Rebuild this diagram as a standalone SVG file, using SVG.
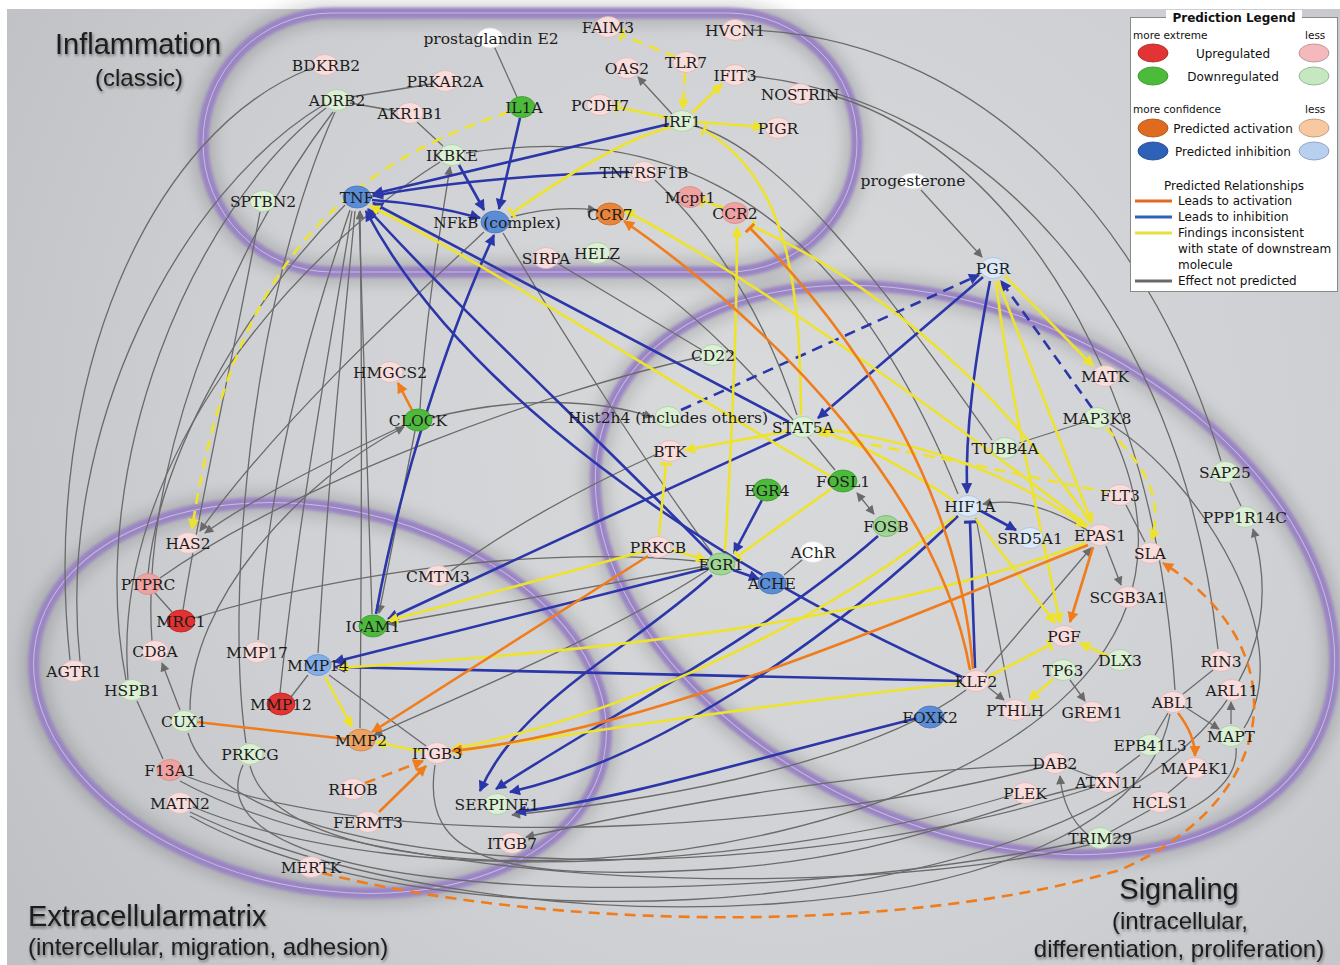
<svg xmlns="http://www.w3.org/2000/svg" width="1340" height="965" viewBox="0 0 1340 965">
<defs>
<radialGradient id="bg" cx="780" cy="430" r="900" gradientUnits="userSpaceOnUse">
<stop offset="0" stop-color="#d9dadc"/><stop offset="0.6" stop-color="#cfd0d3"/><stop offset="1" stop-color="#bfc1c4"/>
</radialGradient>
<filter id="blur" x="-10%" y="-10%" width="120%" height="120%"><feGaussianBlur stdDeviation="1.6"/></filter>
<filter id="sh" x="-10%" y="-10%" width="120%" height="120%"><feGaussianBlur stdDeviation="7"/></filter>
<filter id="ts" x="-5%" y="-20%" width="110%" height="150%"><feDropShadow dx="1" dy="2" stdDeviation="1.5" flood-color="#000" flood-opacity="0.45"/></filter>
<marker id="aB" viewBox="0 0 10 10" refX="9" refY="5" markerWidth="13" markerHeight="11" markerUnits="userSpaceOnUse" orient="auto"><path d="M0,0L10,5L0,10z" fill="#2b36a8"/></marker>
<marker id="aY" viewBox="0 0 10 10" refX="9" refY="5" markerWidth="13" markerHeight="11" markerUnits="userSpaceOnUse" orient="auto"><path d="M0,0L10,5L0,10z" fill="#eee32c"/></marker>
<marker id="aO" viewBox="0 0 10 10" refX="9" refY="5" markerWidth="13" markerHeight="11" markerUnits="userSpaceOnUse" orient="auto"><path d="M0,0L10,5L0,10z" fill="#f07c1c"/></marker>
<marker id="aG" viewBox="0 0 10 10" refX="9" refY="5" markerWidth="11" markerHeight="9" markerUnits="userSpaceOnUse" orient="auto-start-reverse"><path d="M0,0L10,5L0,10z" fill="#6a6a6a"/></marker>
<marker id="tY" viewBox="0 0 4 12" refX="2" refY="6" markerWidth="4" markerHeight="12" markerUnits="userSpaceOnUse" orient="auto"><rect x="0.5" y="0" width="3" height="12" fill="#eee32c"/></marker>
<marker id="tB" viewBox="0 0 4 12" refX="2" refY="6" markerWidth="4" markerHeight="12" markerUnits="userSpaceOnUse" orient="auto"><rect x="0.5" y="0" width="3" height="12" fill="#2b36a8"/></marker>
<marker id="tO" viewBox="0 0 4 12" refX="2" refY="6" markerWidth="4" markerHeight="12" markerUnits="userSpaceOnUse" orient="auto"><rect x="0.5" y="0" width="3" height="12" fill="#f07c1c"/></marker>
<style>
.band{fill:none;stroke:#9a84c4;stroke-width:11}
.bandl{fill:none;stroke:#ffffff;stroke-opacity:0.45;stroke-width:1}
.bsh{fill:none;stroke:#000;stroke-opacity:0.13;stroke-width:26}
#edges path{fill:none}
.g{stroke:#6a6a6a;stroke-width:1.3}
.b{stroke:#2b36a8;stroke-width:2.6}
.y{stroke:#eee32c;stroke-width:2.6}
.o{stroke:#f07c1c;stroke-width:2.6}
.d{stroke-dasharray:11 7}
.lb{font-family:"DejaVu Serif","Liberation Serif",serif;font-size:15.5px;fill:#1c1c1c;text-anchor:middle}
ellipse{stroke-width:0.8}
.pk{fill:#f9dcdc;stroke:#dcb8b8}
.mp{fill:#f0a2a2;stroke:#d48a8a}
.rd{fill:#e23232;stroke:#b82020}
.lg{fill:#dbf0d5;stroke:#aacca4}
.mg{fill:#9ed694;stroke:#7ab070}
.gr{fill:#4dba3c;stroke:#3a9a2c}
.bl{fill:#5b8dd6;stroke:#4a74b8}
.mb{fill:#84aee8;stroke:#6690cc}
.lbl{fill:#dce9f8;stroke:#a9c0dc}
.or{fill:#e8853a;stroke:#c86a22}
.lo{fill:#eca262;stroke:#cc8444}
.wh{fill:#ffffff;stroke:#dddddd}
.gt{font-family:"Liberation Sans",Arial,sans-serif;fill:#1e1e1e;filter:url(#ts)}
.lt{font-family:"DejaVu Sans",Verdana,sans-serif;font-size:12px;fill:#111}
.ls{font-family:"DejaVu Sans",Verdana,sans-serif;font-size:10.5px;fill:#111}
</style>
</defs>
<rect width="1340" height="965" fill="#ffffff"/>
<rect x="7" y="9" width="1333" height="956" fill="url(#bg)"/>

<g id="bands">
<rect class="bsh" filter="url(#sh)" x="203" y="13" width="654" height="259" rx="129" ry="129"/>
<ellipse class="bsh" filter="url(#sh)" cx="320" cy="698" rx="290" ry="190" transform="rotate(12 320 698)"/>
<ellipse class="bsh" filter="url(#sh)" cx="965" cy="570" rx="390" ry="256" transform="rotate(25 965 570)"/>
<rect class="band" filter="url(#blur)" x="203" y="13" width="654" height="259" rx="129" ry="129"/>
<ellipse class="band" filter="url(#blur)" cx="320" cy="698" rx="290" ry="190" transform="rotate(12 320 698)"/>
<ellipse class="band" filter="url(#blur)" cx="965" cy="570" rx="390" ry="256" transform="rotate(25 965 570)"/>
<rect class="bandl" x="203" y="13" width="654" height="259" rx="129" ry="129"/>
<ellipse class="bandl" cx="320" cy="698" rx="290" ry="190" transform="rotate(12 320 698)"/>
<ellipse class="bandl" cx="965" cy="570" rx="390" ry="256" transform="rotate(25 965 570)"/>
</g>

<g id="edges">
<!-- gray -->
<path class="g" d="M494,46 L517,97"/>
<path class="g" d="M672,114 L638,77" marker-end="url(#aG)"/>
<path class="g" d="M351,97 L431,84"/>
<path class="g" d="M350,103 L396,111"/>
<path class="g" d="M417,122 L443,146"/>
<path class="g" d="M511,217 Q555,205 596,210" marker-end="url(#aG)"/>
<path class="g" d="M466,153 C620,130 820,150 958,494"/>
<path class="g" d="M695,126 C780,150 880,280 992,440"/>
<path class="g" d="M655,180 C720,240 770,330 797,415"/>
<path class="g" d="M557,263 L702,350"/>
<path class="g" d="M609,258 C690,300 770,390 835,470"/>
<path class="g" d="M921,190 L982,257" marker-end="url(#aG)"/>
<path class="g" d="M503,233 C560,330 650,470 712,553"/>
<path class="g" d="M484,232 C400,310 280,420 200,531" marker-end="url(#aG)"/>
<path class="g" d="M405,425 C330,460 250,500 205,533" marker-end="url(#aG)"/>
<path class="g" d="M420,409 C425,320 440,230 450,167" marker-end="url(#aG)"/>
<path class="g" d="M415,431 L379,613" marker-end="url(#aG)"/>
<path class="g" d="M431,418 C520,395 600,400 652,417" marker-end="url(#aG)"/>
<path class="g" d="M700,357 C550,390 300,480 160,578"/>
<path class="g" d="M155,593 L172,612"/>
<path class="g" d="M194,618 C350,570 550,545 706,562"/>
<path class="g" d="M451,571 C520,520 600,480 657,454"/>
<path class="g" d="M706,566 L388,624" marker-end="url(#aG)"/>
<path class="g" d="M708,570 C600,640 450,700 374,735" marker-end="url(#aG)"/>
<path class="g" d="M802,560 L784,575"/>
<path class="g" d="M857,493 L874,514" marker-start="url(#aG)" marker-end="url(#aG)"/>
<path class="g" d="M1085,422 L1019,443"/>
<path class="g" d="M1126,505 L1145,542"/>
<path class="g" d="M1106,546 L1121,585" marker-end="url(#aG)"/>
<path class="g" d="M1087,530 Q1030,495 983,504" marker-end="url(#aG)"/>
<path class="g" d="M985,672 L1091,548" marker-end="url(#aG)"/>
<path class="g" d="M976,518 L1010,698"/>
<path class="g" d="M988,687 L1004,700" marker-end="url(#aG)"/>
<path class="g" d="M1070,680 L1085,701" marker-end="url(#aG)"/>
<path class="g" d="M966,690 C900,740 750,790 512,815" marker-end="url(#aG)"/>
<path class="g" d="M1042,765 C850,770 650,810 526,837" marker-end="url(#aG)"/>
<path class="g" d="M435,765 C420,860 500,880 700,870 S1000,800 1095,785"/>
<path class="g" d="M329,675 L426,746"/>
<path class="g" d="M291,697 L308,675"/>
<path class="g" d="M180,710 L162,663" marker-end="url(#aG)"/>
<path class="g" d="M137,701 L163,759"/>
<path class="g" d="M360,728 C362,500 362,350 360,211" marker-end="url(#aG)"/>
<path class="g" d="M372,614 L359,212"/>
<path class="g" d="M318,653 C330,450 345,320 355,211"/>
<path class="g" d="M280,693 C300,500 335,320 352,211"/>
<path class="g" d="M258,640 C270,450 320,300 350,210"/>
<path class="g" d="M312,68 C150,130 40,380 70,660"/>
<path class="g" d="M325,104 C180,190 55,430 80,661"/>
<path class="g" d="M326,108 C190,210 85,470 126,680"/>
<path class="g" d="M333,112 C220,260 140,480 152,641"/>
<path class="g" d="M260,212 C235,350 200,500 183,610"/>
<path class="g" d="M345,205 C250,300 160,450 148,574"/>
<path class="g" d="M440,162 C300,250 110,460 128,680"/>
<path class="g" d="M190,710 C190,600 300,480 404,427" marker-end="url(#aG)"/>
<path class="g" d="M246,743 C225,600 250,300 335,112"/>
<path class="g" d="M183,775 C400,860 800,830 1043,767"/>
<path class="g" d="M193,807 C420,900 800,860 1012,795"/>
<path class="g" d="M188,733 C230,880 750,900 1095,787"/>
<path class="g" d="M243,765 C180,900 700,920 1086,841"/>
<path class="g" d="M190,812 C500,960 1130,940 1170,714"/>
<path class="g" d="M180,781 C450,930 1250,900 1236,748"/>
<path class="g" d="M190,816 C500,990 1360,900 1253,529" marker-end="url(#aG)"/>
<path class="g" d="M250,766 C300,960 1320,860 1110,428"/>
<path class="g" d="M1213,670 L1183,694"/>
<path class="g" d="M1185,707 L1219,729" marker-end="url(#aG)"/>
<path class="g" d="M1231,724 L1231,702" marker-end="url(#aG)"/>
<path class="g" d="M1168,713 L1155,735"/>
<path class="g" d="M1140,755 L1116,773"/>
<path class="g" d="M1187,777 L1168,793"/>
<path class="g" d="M1150,810 L1110,832"/>
<path class="g" d="M1067,767 L1096,778"/>
<path class="g" d="M1088,835 C1070,820 1062,800 1060,776" marker-end="url(#aG)"/>
<path class="g" d="M1230,483 L1241,506"/>
<path class="g" d="M751,30 C1000,40 1160,250 1221,461"/>
<path class="g" d="M751,76 C980,100 1180,300 1218,649"/>
<path class="g" d="M830,95 C960,130 1150,300 1175,690"/>
<path class="g" d="M1110,424 C1200,480 1300,640 1244,728"/>
<!-- blue -->
<path class="b" d="M669,124 L373,194" marker-end="url(#aB)"/>
<path class="b" d="M629,172 Q480,176 373,196" marker-end="url(#aB)"/>
<path class="b" d="M372,200 Q430,204 480,218" marker-end="url(#aB)"/>
<path class="b" d="M459,165 L484,210" marker-end="url(#aB)"/>
<path class="b" d="M520,118 L499,209" marker-end="url(#aB)"/>
<path class="b" d="M376,614 C400,480 450,330 494,235" marker-end="url(#aB)"/>
<path class="b" d="M789,422 L373,203" marker-end="url(#aB)"/>
<path class="b" d="M712,555 C600,440 450,300 368,209" marker-end="url(#aB)"/>
<path class="b" d="M962,677 C700,560 460,390 366,211" marker-end="url(#aB)"/>
<path class="b" d="M983,277 L818,418" marker-end="url(#aB)"/>
<path class="b" d="M990,281 C975,360 965,430 967,493" marker-end="url(#aB)"/>
<path class="b d" d="M681,410 L979,275" marker-end="url(#aB)"/>
<path class="b d" d="M1092,408 L1001,281" marker-end="url(#aB)"/>
<path class="b" d="M981,511 L1016,530" marker-end="url(#aB)"/>
<path class="b" d="M975,668 L970,522" marker-end="url(#tB)"/>
<path class="b" d="M762,500 L734,553" marker-end="url(#aB)"/>
<path class="b" d="M733,570 L759,579" marker-end="url(#aB)"/>
<path class="b" d="M791,433 Q600,520 388,619" marker-end="url(#aB)"/>
<path class="b" d="M708,568 L334,662" marker-end="url(#aB)"/>
<path class="b" d="M962,681 L335,667" marker-end="url(#aB)"/>
<path class="b" d="M712,575 C630,650 520,700 480,791" marker-end="url(#aB)"/>
<path class="b" d="M878,536 C760,640 600,720 496,789" marker-end="url(#aB)"/>
<path class="b" d="M958,516 C820,650 650,760 510,792" marker-end="url(#aB)"/>
<path class="b" d="M918,718 C750,760 620,800 516,812" marker-end="url(#aB)"/>
<!-- yellow -->
<path class="y d" d="M676,57 L622,35" marker-end="url(#tY)"/>
<path class="y d" d="M685,73 L683,109" marker-end="url(#aY)"/>
<path class="y" d="M692,113 L722,84" marker-end="url(#aY)"/>
<path class="y" d="M669,118 L617,107" marker-end="url(#tY)"/>
<path class="y" d="M697,122 L763,127" marker-end="url(#aY)"/>
<path class="y" d="M671,127 C620,140 560,180 512,213" marker-end="url(#tY)"/>
<path class="y d" d="M509,112 C330,170 230,280 192,529" marker-end="url(#aY)"/>
<path class="y" d="M724,208 L703,201" marker-end="url(#tY)"/>
<path class="y" d="M725,551 C733,420 737,300 737,227" marker-end="url(#aY)"/>
<path class="y" d="M801,415 C800,290 790,180 704,130" marker-end="url(#tY)"/>
<path class="y" d="M1088,526 C900,380 720,260 624,210" marker-end="url(#aY)"/>
<path class="y" d="M1090,522 C980,360 850,270 752,226" marker-end="url(#tY)"/>
<path class="y" d="M830,476 C650,370 480,260 370,206" marker-end="url(#aY)"/>
<path class="y" d="M831,489 L738,556" marker-end="url(#tY)"/>
<path class="y" d="M672,550 L706,560" marker-end="url(#aY)"/>
<path class="y" d="M659,535 L666,464" marker-end="url(#tY)"/>
<path class="y" d="M789,431 L685,450" marker-end="url(#aY)"/>
<path class="y" d="M645,551 L388,621" marker-end="url(#aY)"/>
<path class="y" d="M954,501 Q880,450 819,430" marker-end="url(#aY)"/>
<path class="y d" d="M818,434 Q950,460 1106,492"/>
<path class="y" d="M818,428 Q980,450 1086,527" marker-end="url(#aY)"/>
<path class="y" d="M1005,276 L1093,366" marker-end="url(#aY)"/>
<path class="y" d="M998,281 L1092,523" marker-end="url(#aY)"/>
<path class="y" d="M996,282 C1010,400 1040,520 1060,623" marker-end="url(#aY)"/>
<path class="y d" d="M1106,428 C1150,470 1162,500 1152,540" marker-end="url(#aY)"/>
<path class="y" d="M976,519 L1055,623" marker-end="url(#aY)"/>
<path class="y" d="M1108,656 L1080,643" marker-end="url(#aY)"/>
<path class="y" d="M1053,679 L1029,700" marker-end="url(#aY)"/>
<path class="y" d="M988,677 L1050,645" marker-end="url(#tY)"/>
<path class="y" d="M955,516 C800,640 600,720 452,749" marker-end="url(#aY)"/>
<path class="y" d="M962,683 C800,700 600,730 452,752" marker-end="url(#aY)"/>
<path class="y" d="M1086,543 C900,610 700,645 338,668" marker-end="url(#aY)"/>
<path class="y" d="M325,677 L352,727" marker-end="url(#aY)"/>
<path class="y" d="M423,752 L376,742" marker-end="url(#aY)"/>
<!-- orange -->
<path class="o" d="M412,410 L398,383" marker-end="url(#aO)"/>
<path class="o" d="M970,670 C940,500 780,330 624,221" marker-end="url(#aO)"/>
<path class="o" d="M973,669 C960,500 870,350 750,228" marker-end="url(#tO)"/>
<path class="o" d="M648,556 L372,732" marker-end="url(#aO)"/>
<path class="o" d="M197,722 L346,739"/>
<path class="o" d="M1088,545 C900,620 650,730 452,751" marker-end="url(#aO)"/>
<path class="o" d="M1093,547 L1070,622" marker-end="url(#aO)"/>
<path class="o d" d="M365,783 L423,761" marker-end="url(#aO)"/>
<path class="o" d="M379,812 L426,766" marker-end="url(#aO)"/>
<path class="o" d="M1178,713 Q1195,735 1195,756" marker-end="url(#aO)"/>
<path class="o d" d="M322,873 C550,930 900,935 1120,870 C1280,800 1300,650 1163,563" marker-end="url(#aO)"/>
</g>

<g id="nodes">
<g id="n-prostaglandinE2"><ellipse class="wh" cx="490" cy="38" rx="13" ry="10"/><text class="lb" x="491" y="44">prostaglandin E2</text></g>
<g id="n-FAIM3"><ellipse class="pk" cx="608" cy="27" rx="13" ry="10.5"/><text class="lb" x="608" y="33">FAIM3</text></g>
<g id="n-HVCN1"><ellipse class="pk" cx="735" cy="30" rx="13" ry="10.5"/><text class="lb" x="735" y="36">HVCN1</text></g>
<g id="n-BDKRB2"><ellipse class="pk" cx="325" cy="65" rx="13" ry="10.5"/><text class="lb" x="326" y="71">BDKRB2</text></g>
<g id="n-PRKAR2A"><ellipse class="pk" cx="445" cy="81" rx="13" ry="10.5"/><text class="lb" x="445" y="87">PRKAR2A</text></g>
<g id="n-TLR7"><ellipse class="pk" cx="686" cy="62" rx="13" ry="10.5"/><text class="lb" x="686" y="68">TLR7</text></g>
<g id="n-OAS2"><ellipse class="pk" cx="627" cy="68" rx="13" ry="10.5"/><text class="lb" x="627" y="74">OAS2</text></g>
<g id="n-IFIT3"><ellipse class="pk" cx="735" cy="75" rx="13" ry="10.5"/><text class="lb" x="735" y="81">IFIT3</text></g>
<g id="n-ADRB2"><ellipse class="lg" cx="337" cy="100" rx="13" ry="10.5"/><text class="lb" x="337" y="106">ADRB2</text></g>
<g id="n-AKR1B1"><ellipse class="pk" cx="410" cy="113" rx="13" ry="10.5"/><text class="lb" x="410" y="119">AKR1B1</text></g>
<g id="n-IL1A"><ellipse class="gr" cx="522" cy="107" rx="13" ry="10.5"/><text class="lb" x="524" y="113">IL1A</text></g>
<g id="n-PCDH7"><ellipse class="pk" cx="600" cy="105" rx="13" ry="10.5"/><text class="lb" x="600" y="111">PCDH7</text></g>
<g id="n-NOSTRIN"><ellipse class="pk" cx="800" cy="94" rx="13" ry="10.5"/><text class="lb" x="800" y="100">NOSTRIN</text></g>
<g id="n-IRF1"><ellipse class="lg" cx="682" cy="121" rx="13" ry="10.5"/><text class="lb" x="682" y="127">IRF1</text></g>
<g id="n-PIGR"><ellipse class="pk" cx="778" cy="128" rx="13" ry="10.5"/><text class="lb" x="778" y="134">PIGR</text></g>
<g id="n-IKBKE"><ellipse class="lg" cx="452" cy="155" rx="13" ry="10.5"/><text class="lb" x="452" y="161">IKBKE</text></g>
<g id="n-TNFRSF1B"><ellipse class="pk" cx="644" cy="172" rx="13" ry="10.5"/><text class="lb" x="644" y="178">TNFRSF1B</text></g>
<g id="n-TNF"><ellipse class="bl" cx="357" cy="197" rx="14" ry="11"/><text class="lb" x="357" y="203">TNF</text></g>
<g id="n-SPTBN2"><ellipse class="lg" cx="263" cy="201" rx="13" ry="10.5"/><text class="lb" x="263" y="207">SPTBN2</text></g>
<g id="n-NFkB"><ellipse class="bl" cx="495" cy="222" rx="14" ry="11"/><text class="lb" x="497" y="228">NFkB (complex)</text></g>
<g id="n-CCR7"><ellipse class="or" cx="610" cy="214" rx="14" ry="11"/><text class="lb" x="610" y="220">CCR7</text></g>
<g id="n-Mcpt1"><ellipse class="mp" cx="690" cy="197" rx="13" ry="10.5"/><text class="lb" x="690" y="203">Mcpt1</text></g>
<g id="n-CCR2"><ellipse class="mp" cx="735" cy="213" rx="13" ry="10.5"/><text class="lb" x="735" y="219">CCR2</text></g>
<g id="n-progesterone"><ellipse class="wh" cx="913" cy="181" rx="13" ry="8"/><text class="lb" x="913" y="186">progesterone</text></g>
<g id="n-SIRPA"><ellipse class="pk" cx="546" cy="258" rx="13" ry="10.5"/><text class="lb" x="546" y="264">SIRPA</text></g>
<g id="n-HELZ"><ellipse class="lg" cx="597" cy="253" rx="13" ry="10.5"/><text class="lb" x="597" y="259">HELZ</text></g>
<g id="n-PGR"><ellipse class="lbl" cx="993" cy="268" rx="13" ry="10.5"/><text class="lb" x="993" y="274">PGR</text></g>
<g id="n-CD22"><ellipse class="lg" cx="713" cy="355" rx="13" ry="10.5"/><text class="lb" x="713" y="361">CD22</text></g>
<g id="n-HMGCS2"><ellipse class="pk" cx="390" cy="372" rx="13" ry="10.5"/><text class="lb" x="390" y="378">HMGCS2</text></g>
<g id="n-MATK"><ellipse class="pk" cx="1105" cy="376" rx="13" ry="10.5"/><text class="lb" x="1105" y="382">MATK</text></g>
<g id="n-CLOCK"><ellipse class="gr" cx="418" cy="420" rx="14" ry="11"/><text class="lb" x="418" y="426">CLOCK</text></g>
<g id="n-Hist2h4"><ellipse class="lg" cx="668" cy="417" rx="13" ry="10.5"/><text class="lb" x="668" y="423">Hist2h4 (includes others)</text></g>
<g id="n-STAT5A"><ellipse class="lg" cx="803" cy="427" rx="13" ry="10.5"/><text class="lb" x="803" y="433">STAT5A</text></g>
<g id="n-MAP3K8"><ellipse class="lg" cx="1097" cy="418" rx="13" ry="10.5"/><text class="lb" x="1097" y="424">MAP3K8</text></g>
<g id="n-TUBB4A"><ellipse class="lg" cx="1005" cy="448" rx="13" ry="10.5"/><text class="lb" x="1005" y="454">TUBB4A</text></g>
<g id="n-BTK"><ellipse class="pk" cx="670" cy="451" rx="13" ry="10.5"/><text class="lb" x="670" y="457">BTK</text></g>
<g id="n-SAP25"><ellipse class="lg" cx="1225" cy="472" rx="13" ry="10.5"/><text class="lb" x="1225" y="478">SAP25</text></g>
<g id="n-FOSL1"><ellipse class="gr" cx="843" cy="481" rx="14" ry="11"/><text class="lb" x="843" y="487">FOSL1</text></g>
<g id="n-EGR4"><ellipse class="gr" cx="767" cy="490" rx="14" ry="11"/><text class="lb" x="767" y="496">EGR4</text></g>
<g id="n-FLT3"><ellipse class="pk" cx="1120" cy="495" rx="13" ry="10.5"/><text class="lb" x="1120" y="501">FLT3</text></g>
<g id="n-HIF1A"><ellipse class="lbl" cx="968" cy="506" rx="13" ry="10.5"/><text class="lb" x="970" y="512">HIF1A</text></g>
<g id="n-FOSB"><ellipse class="mg" cx="886" cy="526" rx="13" ry="10.5"/><text class="lb" x="886" y="532">FOSB</text></g>
<g id="n-EPAS1"><ellipse class="pk" cx="1100" cy="535" rx="13" ry="10.5"/><text class="lb" x="1100" y="541">EPAS1</text></g>
<g id="n-PPP1R14C"><ellipse class="lg" cx="1245" cy="517" rx="13" ry="10.5"/><text class="lb" x="1245" y="523">PPP1R14C</text></g>
<g id="n-SRD5A1"><ellipse class="lbl" cx="1030" cy="538" rx="13" ry="10.5"/><text class="lb" x="1030" y="544">SRD5A1</text></g>
<g id="n-HAS2"><ellipse class="pk" cx="188" cy="543" rx="13" ry="10.5"/><text class="lb" x="188" y="549">HAS2</text></g>
<g id="n-PRKCB"><ellipse class="pk" cx="658" cy="547" rx="13" ry="10.5"/><text class="lb" x="658" y="553">PRKCB</text></g>
<g id="n-EGR1"><ellipse class="mg" cx="721" cy="564" rx="14" ry="11"/><text class="lb" x="721" y="570">EGR1</text></g>
<g id="n-AChR"><ellipse class="wh" cx="813" cy="552" rx="13" ry="10.5"/><text class="lb" x="813" y="558">AChR</text></g>
<g id="n-SLA"><ellipse class="pk" cx="1150" cy="553" rx="13" ry="10.5"/><text class="lb" x="1150" y="559">SLA</text></g>
<g id="n-ACHE"><ellipse class="bl" cx="772" cy="583" rx="14" ry="11"/><text class="lb" x="772" y="589">ACHE</text></g>
<g id="n-PTPRC"><ellipse class="mp" cx="148" cy="584" rx="13" ry="10.5"/><text class="lb" x="148" y="590">PTPRC</text></g>
<g id="n-CMTM3"><ellipse class="pk" cx="438" cy="576" rx="13" ry="10.5"/><text class="lb" x="438" y="582">CMTM3</text></g>
<g id="n-SCGB3A1"><ellipse class="pk" cx="1128" cy="597" rx="13" ry="10.5"/><text class="lb" x="1128" y="603">SCGB3A1</text></g>
<g id="n-MRC1"><ellipse class="rd" cx="181" cy="621" rx="14" ry="11"/><text class="lb" x="181" y="627">MRC1</text></g>
<g id="n-ICAM1"><ellipse class="gr" cx="373" cy="626" rx="14" ry="11"/><text class="lb" x="373" y="632">ICAM1</text></g>
<g id="n-PGF"><ellipse class="pk" cx="1064" cy="636" rx="13" ry="10.5"/><text class="lb" x="1064" y="642">PGF</text></g>
<g id="n-CD8A"><ellipse class="pk" cx="155" cy="651" rx="13" ry="10.5"/><text class="lb" x="155" y="657">CD8A</text></g>
<g id="n-MMP17"><ellipse class="pk" cx="257" cy="652" rx="13" ry="10.5"/><text class="lb" x="257" y="658">MMP17</text></g>
<g id="n-MMP14"><ellipse class="mb" cx="318" cy="665" rx="13" ry="10.5"/><text class="lb" x="318" y="671">MMP14</text></g>
<g id="n-DLX3"><ellipse class="lg" cx="1120" cy="660" rx="13" ry="10.5"/><text class="lb" x="1120" y="666">DLX3</text></g>
<g id="n-RIN3"><ellipse class="pk" cx="1221" cy="661" rx="13" ry="10.5"/><text class="lb" x="1221" y="667">RIN3</text></g>
<g id="n-AGTR1"><ellipse class="pk" cx="74" cy="671" rx="13" ry="10.5"/><text class="lb" x="74" y="677">AGTR1</text></g>
<g id="n-TP63"><ellipse class="lg" cx="1063" cy="670" rx="13" ry="10.5"/><text class="lb" x="1063" y="676">TP63</text></g>
<g id="n-KLF2"><ellipse class="pk" cx="976" cy="681" rx="13" ry="10.5"/><text class="lb" x="976" y="687">KLF2</text></g>
<g id="n-HSPB1"><ellipse class="lg" cx="132" cy="690" rx="13" ry="10.5"/><text class="lb" x="132" y="696">HSPB1</text></g>
<g id="n-ARL11"><ellipse class="pk" cx="1232" cy="690" rx="13" ry="10.5"/><text class="lb" x="1232" y="696">ARL11</text></g>
<g id="n-MMP12"><ellipse class="rd" cx="281" cy="704" rx="14" ry="11"/><text class="lb" x="281" y="710">MMP12</text></g>
<g id="n-ABL1"><ellipse class="pk" cx="1173" cy="702" rx="13" ry="10.5"/><text class="lb" x="1173" y="708">ABL1</text></g>
<g id="n-PTHLH"><ellipse class="pk" cx="1015" cy="710" rx="13" ry="10.5"/><text class="lb" x="1015" y="716">PTHLH</text></g>
<g id="n-GREM1"><ellipse class="pk" cx="1092" cy="712" rx="13" ry="10.5"/><text class="lb" x="1092" y="718">GREM1</text></g>
<g id="n-CUX1"><ellipse class="lg" cx="184" cy="721" rx="13" ry="10.5"/><text class="lb" x="184" y="727">CUX1</text></g>
<g id="n-FOXK2"><ellipse class="bl" cx="930" cy="717" rx="14" ry="11"/><text class="lb" x="930" y="723">FOXK2</text></g>
<g id="n-MMP2"><ellipse class="lo" cx="361" cy="740" rx="14" ry="11"/><text class="lb" x="361" y="746">MMP2</text></g>
<g id="n-MAPT"><ellipse class="lg" cx="1231" cy="736" rx="13" ry="10.5"/><text class="lb" x="1231" y="742">MAPT</text></g>
<g id="n-EPB41L3"><ellipse class="lg" cx="1150" cy="745" rx="13" ry="10.5"/><text class="lb" x="1150" y="751">EPB41L3</text></g>
<g id="n-ITGB3"><ellipse class="pk" cx="437" cy="753" rx="13" ry="10.5"/><text class="lb" x="437" y="759">ITGB3</text></g>
<g id="n-PRKCG"><ellipse class="lg" cx="250" cy="754" rx="13" ry="10.5"/><text class="lb" x="250" y="760">PRKCG</text></g>
<g id="n-DAB2"><ellipse class="pk" cx="1055" cy="763" rx="13" ry="10.5"/><text class="lb" x="1055" y="769">DAB2</text></g>
<g id="n-MAP4K1"><ellipse class="pk" cx="1195" cy="768" rx="13" ry="10.5"/><text class="lb" x="1195" y="774">MAP4K1</text></g>
<g id="n-F13A1"><ellipse class="mp" cx="170" cy="770" rx="13" ry="10.5"/><text class="lb" x="170" y="776">F13A1</text></g>
<g id="n-RHOB"><ellipse class="pk" cx="353" cy="789" rx="13" ry="10.5"/><text class="lb" x="353" y="795">RHOB</text></g>
<g id="n-ATXN1L"><ellipse class="pk" cx="1108" cy="782" rx="13" ry="10.5"/><text class="lb" x="1108" y="788">ATXN1L</text></g>
<g id="n-PLEK"><ellipse class="pk" cx="1025" cy="793" rx="13" ry="10.5"/><text class="lb" x="1025" y="799">PLEK</text></g>
<g id="n-HCLS1"><ellipse class="pk" cx="1160" cy="802" rx="13" ry="10.5"/><text class="lb" x="1160" y="808">HCLS1</text></g>
<g id="n-MATN2"><ellipse class="pk" cx="180" cy="803" rx="13" ry="10.5"/><text class="lb" x="180" y="809">MATN2</text></g>
<g id="n-SERPINE1"><ellipse class="lg" cx="497" cy="804" rx="13" ry="10.5"/><text class="lb" x="497" y="810">SERPINE1</text></g>
<g id="n-FERMT3"><ellipse class="pk" cx="368" cy="822" rx="13" ry="10.5"/><text class="lb" x="368" y="828">FERMT3</text></g>
<g id="n-ITGB7"><ellipse class="pk" cx="512" cy="843" rx="13" ry="10.5"/><text class="lb" x="512" y="849">ITGB7</text></g>
<g id="n-TRIM29"><ellipse class="lg" cx="1100" cy="838" rx="13" ry="10.5"/><text class="lb" x="1100" y="844">TRIM29</text></g>
<g id="n-MERTK"><ellipse class="pk" cx="311" cy="867" rx="13" ry="10.5"/><text class="lb" x="311" y="873">MERTK</text></g>
</g>

<g id="group-labels">
<text class="gt" x="55" y="54" font-size="29">Inflammation</text>
<text class="gt" x="139" y="86" font-size="24" text-anchor="middle">(classic)</text>
<text class="gt" x="28" y="926" font-size="29">Extracellularmatrix</text>
<text class="gt" x="28" y="955" font-size="24">(intercellular, migration, adhesion)</text>
<text class="gt" x="1179" y="899" font-size="29" text-anchor="middle">Signaling</text>
<text class="gt" x="1180" y="929" font-size="24" text-anchor="middle">(intracellular,</text>
<text class="gt" x="1179" y="957" font-size="24" text-anchor="middle">differentiation, proliferation)</text>
</g>

<g id="legend">
<rect x="1130.5" y="17.5" width="207" height="274" fill="#ffffff" stroke="#8a8a8a" stroke-width="1"/>
<rect x="1166" y="10" width="136" height="14" fill="#ffffff"/>
<text x="1234" y="22" font-family="DejaVu Sans,Verdana,sans-serif" font-size="12" font-weight="bold" text-anchor="middle" fill="#111">Prediction Legend</text>
<text class="ls" x="1133" y="39">more extreme</text>
<text class="ls" x="1305" y="39">less</text>
<ellipse cx="1153" cy="53" rx="15" ry="9" fill="#e23434" stroke="#a02020"/>
<text class="lt" x="1233" y="58" text-anchor="middle">Upregulated</text>
<ellipse cx="1314" cy="53" rx="15" ry="9" fill="#f5b8bd" stroke="#b08888"/>
<ellipse cx="1153" cy="76" rx="15" ry="9" fill="#4cbb3a" stroke="#2e8a22"/>
<text class="lt" x="1233" y="81" text-anchor="middle">Downregulated</text>
<ellipse cx="1314" cy="76" rx="15" ry="9" fill="#c6e8c0" stroke="#88aa88"/>
<text class="ls" x="1133" y="113">more confidence</text>
<text class="ls" x="1305" y="113">less</text>
<ellipse cx="1153" cy="128" rx="15" ry="9" fill="#e06a20" stroke="#a04a10"/>
<text class="lt" x="1233" y="133" text-anchor="middle">Predicted activation</text>
<ellipse cx="1314" cy="128" rx="15" ry="9" fill="#f8c8a0" stroke="#b09070"/>
<ellipse cx="1153" cy="151" rx="15" ry="9" fill="#2e62b8" stroke="#1a3c80"/>
<text class="lt" x="1233" y="156" text-anchor="middle">Predicted inhibition</text>
<ellipse cx="1314" cy="151" rx="15" ry="9" fill="#b8d0f0" stroke="#8090b0"/>
<text class="lt" x="1234" y="190" text-anchor="middle">Predicted Relationships</text>
<line x1="1135" y1="201" x2="1172" y2="201" stroke="#e06a20" stroke-width="3"/>
<text class="lt" x="1178" y="205">Leads to activation</text>
<line x1="1135" y1="217" x2="1172" y2="217" stroke="#2e62b8" stroke-width="3"/>
<text class="lt" x="1178" y="221">Leads to inhibition</text>
<line x1="1135" y1="233" x2="1172" y2="233" stroke="#e8e040" stroke-width="3"/>
<text class="lt" x="1178" y="237">Findings inconsistent</text>
<text class="lt" x="1178" y="253">with state of downstream</text>
<text class="lt" x="1178" y="269">molecule</text>
<line x1="1135" y1="281" x2="1172" y2="281" stroke="#6a6a6a" stroke-width="3"/>
<text class="lt" x="1178" y="285">Effect not predicted</text>
</g>
</svg>
